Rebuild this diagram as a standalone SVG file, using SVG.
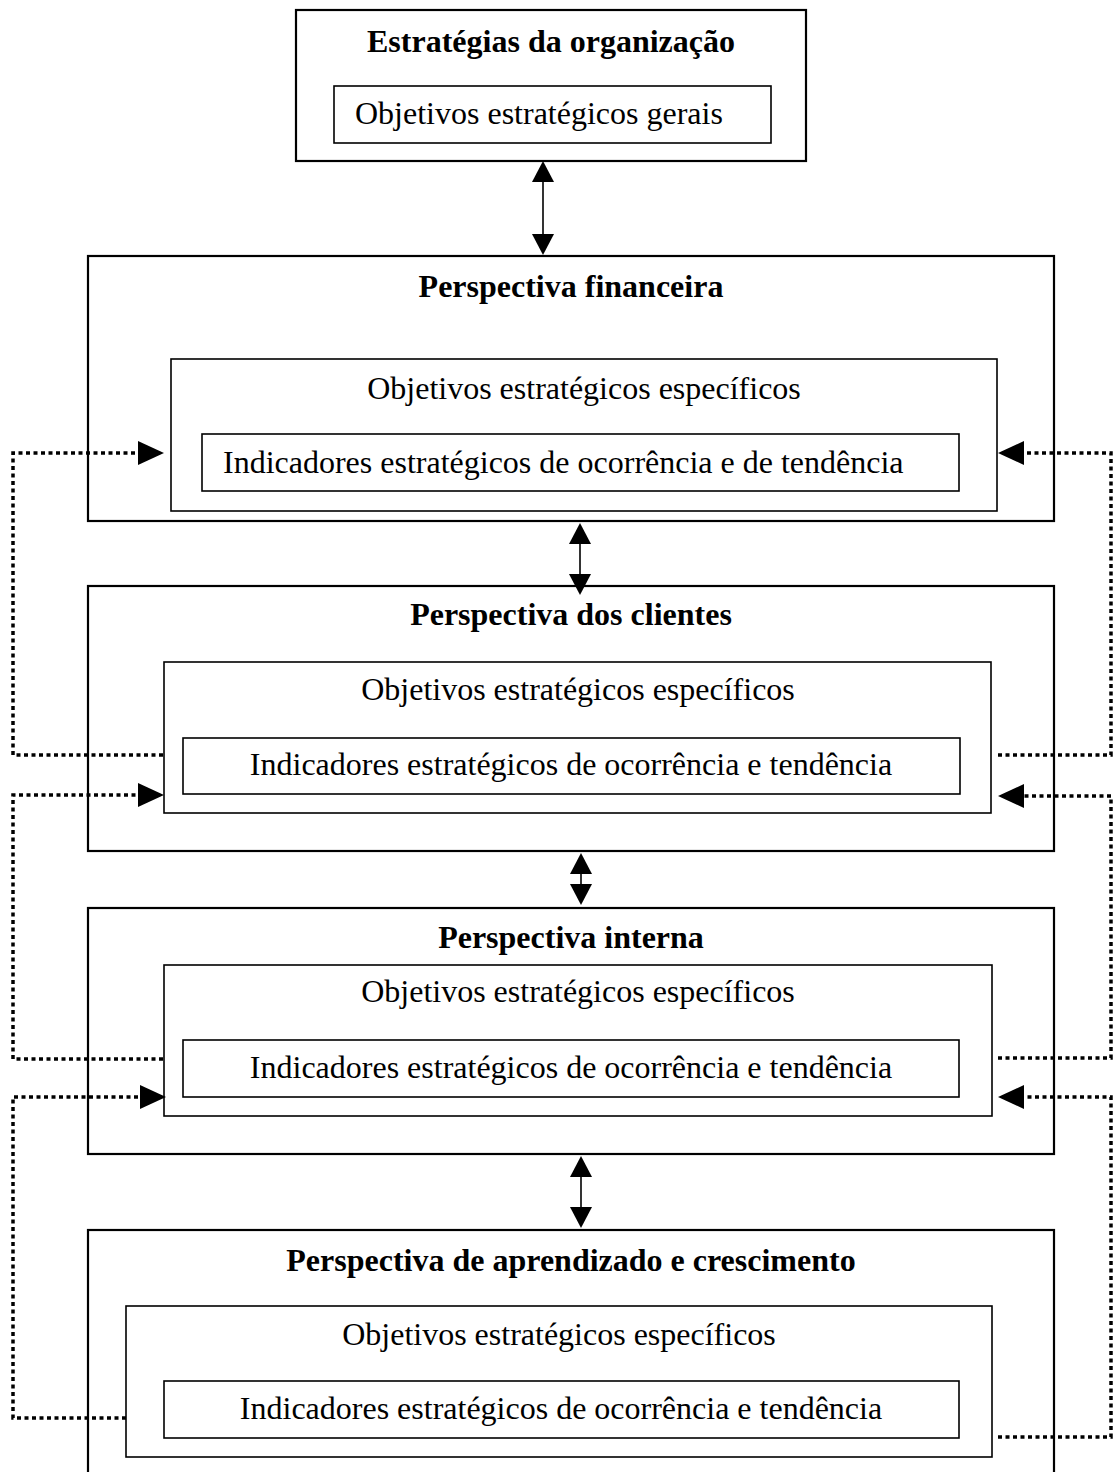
<svg xmlns="http://www.w3.org/2000/svg" width="1117" height="1472" viewBox="0 0 1117 1472">
<style>
.outer{fill:none;stroke:#000;stroke-width:2.2}
.inner{fill:none;stroke:#000;stroke-width:1.6}
.t{font-family:"Liberation Serif","Times New Roman",serif;font-size:32px;fill:#000}
.b{font-weight:bold}
.c{text-anchor:middle}
.dot{fill:none;stroke:#000;stroke-width:3.5;stroke-dasharray:4 3.5}
.sol{fill:none;stroke:#000;stroke-width:1.6}
</style>
<defs>
<marker id="dh" markerUnits="userSpaceOnUse" markerWidth="26" markerHeight="24" viewBox="0 0 26 24" refX="0" refY="12" orient="auto">
<path d="M0,0 L26,12 L0,24 z" fill="#000"/>
</marker>
<marker id="sh" markerUnits="userSpaceOnUse" markerWidth="21" markerHeight="22" viewBox="0 0 21 22" refX="0" refY="11" orient="auto-start-reverse">
<path d="M0,0 L21,11 L0,22 z" fill="#000"/>
</marker>
</defs>
<rect width="1117" height="1472" fill="#fff"/>

<g id="estrategias">
<rect class="outer" x="296" y="10" width="510" height="151"/>
<text class="t b c" x="551" y="52">Estratégias da organização</text>
<rect class="inner" x="334" y="86" width="437" height="57"/>
<text class="t" x="355" y="124">Objetivos estratégicos gerais</text>
</g>

<g id="financeira">
<rect class="outer" x="88" y="256" width="966" height="265"/>
<text class="t b c" x="571" y="297">Perspectiva financeira</text>
<rect class="inner" x="171" y="359" width="826" height="152"/>
<text class="t c" x="584" y="399">Objetivos estratégicos específicos</text>
<rect class="inner" x="202" y="434" width="757" height="57"/>
<text class="t" x="223" y="473">Indicadores estratégicos de ocorrência e de tendência</text>
</g>

<g id="clientes">
<rect class="outer" x="88" y="586" width="966" height="265"/>
<text class="t b c" x="571" y="625">Perspectiva dos clientes</text>
<rect class="inner" x="164" y="662" width="827" height="151"/>
<text class="t c" x="578" y="700">Objetivos estratégicos específicos</text>
<rect class="inner" x="183" y="738" width="777" height="56"/>
<text class="t c" x="571" y="775">Indicadores estratégicos de ocorrência e tendência</text>
</g>

<g id="interna">
<rect class="outer" x="88" y="908" width="966" height="246"/>
<text class="t b c" x="571" y="948">Perspectiva interna</text>
<rect class="inner" x="164" y="965" width="828" height="151"/>
<text class="t c" x="578" y="1002">Objetivos estratégicos específicos</text>
<rect class="inner" x="183" y="1040" width="776" height="57"/>
<text class="t c" x="571" y="1078">Indicadores estratégicos de ocorrência e tendência</text>
</g>

<g id="aprendizado">
<rect class="outer" x="88" y="1230" width="966" height="260"/>
<text class="t b c" x="571" y="1271">Perspectiva de aprendizado e crescimento</text>
<rect class="inner" x="126" y="1306" width="866" height="151"/>
<text class="t c" x="559" y="1345">Objetivos estratégicos específicos</text>
<rect class="inner" x="164" y="1381" width="795" height="57"/>
<text class="t c" x="561" y="1419">Indicadores estratégicos de ocorrência e tendência</text>
</g>

<g id="connectors">
<line class="sol" x1="543" y1="182" x2="543" y2="234" marker-start="url(#sh)" marker-end="url(#sh)"/>
<line class="sol" x1="580" y1="544" x2="580" y2="574" marker-start="url(#sh)" marker-end="url(#sh)"/>
<line class="sol" x1="581" y1="874" x2="581" y2="884" marker-start="url(#sh)" marker-end="url(#sh)"/>
<line class="sol" x1="581" y1="1177" x2="581" y2="1207" marker-start="url(#sh)" marker-end="url(#sh)"/>

<path class="dot" d="M163,755 H13 V453 H138" marker-end="url(#dh)"/>
<path class="dot" d="M163,1059 H13 V795 H138" marker-end="url(#dh)"/>
<path class="dot" d="M126,1418 H13 V1097 H140" marker-end="url(#dh)"/>

<path class="dot" d="M998,755 H1111 V453 H1024" marker-end="url(#dh)"/>
<path class="dot" d="M998,1058 H1111 V796 H1024" marker-end="url(#dh)"/>
<path class="dot" d="M998,1437 H1111 V1097 H1024" marker-end="url(#dh)"/>
</g>
</svg>
